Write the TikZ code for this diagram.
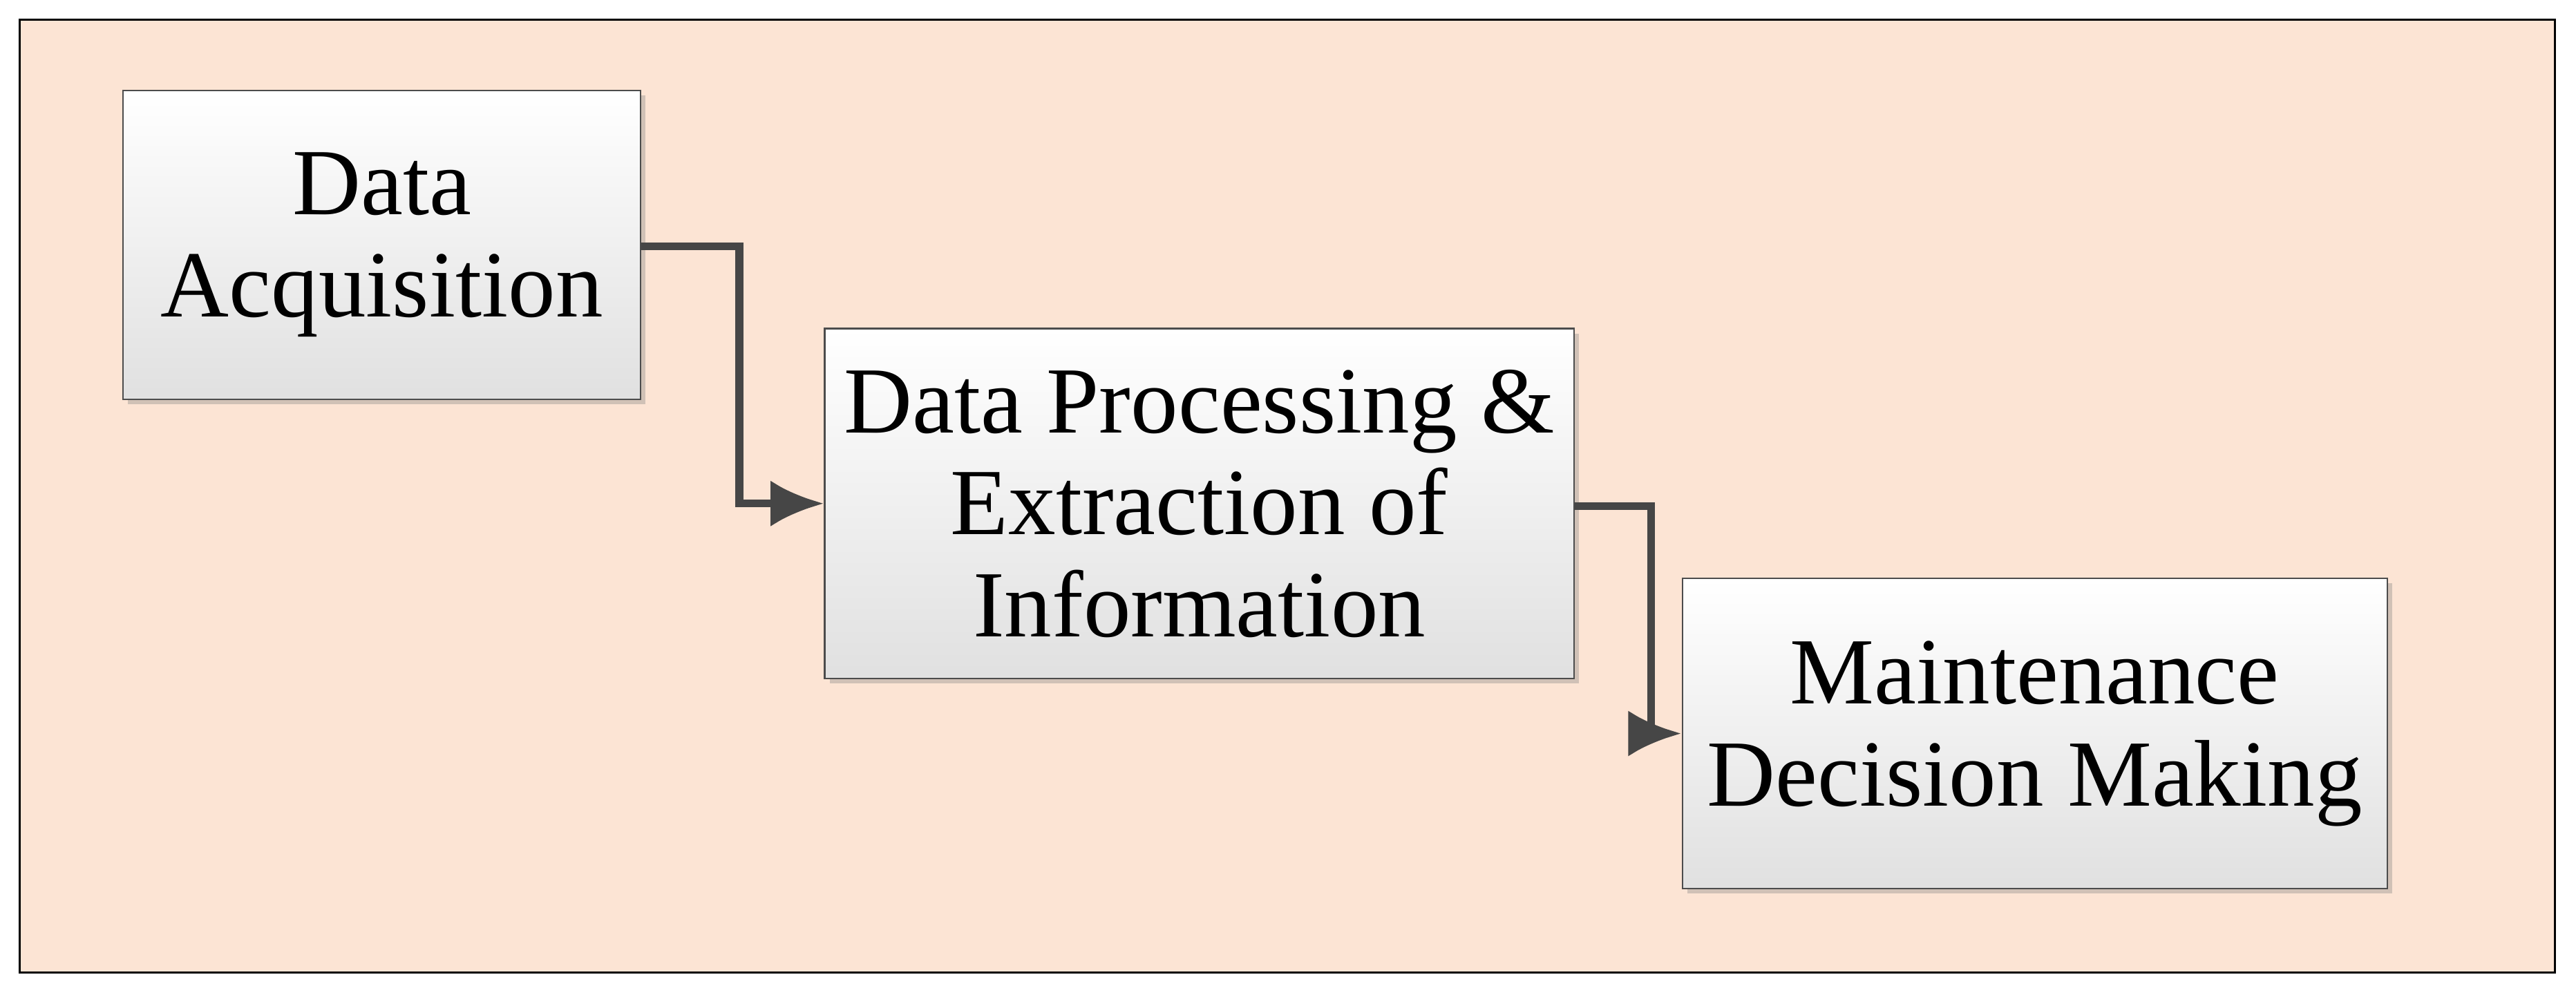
\documentclass[tikz,border=0pt]{standalone}
\usepackage{fontspec}
\setmainfont{Liberation Serif}
\usetikzlibrary{shadows,arrows.meta}
\definecolor{bg}{RGB}{252,228,212}
\definecolor{arr}{RGB}{70,70,70}
\begin{document}
\begin{tikzpicture}[x=0.02378cm,y=-0.02378cm,
  box/.style={draw=black!70,line width=0.6pt,top color=white,bottom color=black!12,
    drop shadow={shadow xshift=2pt,shadow yshift=-2pt,opacity=0.35},
    align=center,font=\fontsize{39}{42}\selectfont,inner sep=0pt},
  conn/.style={draw=arr,line width=3.2pt,-{Latex[length=22pt,width=19pt]}}]
\useasboundingbox (0,0) rectangle (1568,600);
\fill[white] (0,0) rectangle (1568,600);
\draw[fill=bg,line width=0.8pt] (12,12) rectangle (1555,592);
\node[box,minimum width=315*0.02378cm,minimum height=188*0.02378cm] (a) at (232.5,149) {Data\\Acquisition};
\node[box,minimum width=456*0.02378cm,minimum height=213*0.02378cm] (b) at (730,306.5) {Data Processing \&\\Extraction of\\Information};
\node[box,minimum width=429*0.02378cm,minimum height=189*0.02378cm] (c) at (1238.5,446.5) {Maintenance\\Decision Making};
\coordinate (k1) at (450,150);
\coordinate (k2) at (1005,308);
\draw[conn] (a.east |- k1) -- (k1) |- (b.west);
\draw[conn] (b.east |- k2) -- (k2) |- (c.west);
\end{tikzpicture}
\end{document}
